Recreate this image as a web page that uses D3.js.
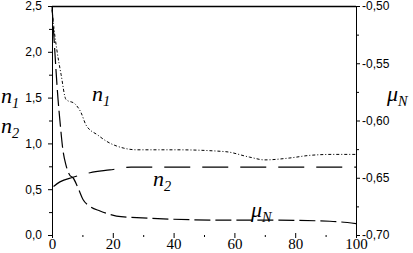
<!DOCTYPE html>
<html>
<head>
<meta charset="utf-8">
<script src="https://cdn.jsdelivr.net/npm/d3@7"></script>
<style>
  body { margin: 0; background: #fff; }
  svg { display: block; }
</style>
</head>
<body>
<svg id="chart" width="413" height="253"></svg>
<script>
// values
var n1X = [0, 0.7, 1.6, 3.0, 4.6, 7.6, 9.5, 11.2, 15.1, 18.1, 23.4, 28, 41, 57, 65, 70, 78, 85, 92.4, 100];
var n1Y = [2.46, 2.24, 2.02, 1.75, 1.48, 1.43, 1.34, 1.20, 1.09, 1.02, 0.95, 0.93, 0.93, 0.91, 0.85, 0.82, 0.84, 0.87, 0.88, 0.88];

var n2X = [0.5, 2.6, 6.9, 12.5, 19, 26, 49, 70, 100];
var n2Y = [0.53, 0.58, 0.63, 0.68, 0.71, 0.74, 0.74, 0.74, 0.74];

var muX = [0, 0.7, 2.0, 2.6, 3.6, 4.6, 5.9, 6.9, 8.6, 10.2, 12.5, 15.8, 19, 22.7, 57, 71.7, 91.4, 100];
var muY = [-0.500, -0.530, -0.582, -0.600, -0.626, -0.639, -0.648, -0.650, -0.659, -0.669, -0.675, -0.679, -0.682, -0.684, -0.687, -0.687, -0.688, -0.690];

var xTicks = [0, 20, 40, 60, 80, 100];
var leftTicks = [0, 0.5, 1.0, 1.5, 2.0, 2.5];
var rightTicks = [-0.70, -0.65, -0.60, -0.55, -0.50];

var margin = {top: 6, right: 57, bottom: 18, left: 52},
  width = 413 - margin.left - margin.right,
  height = 253 - margin.top - margin.bottom;

var serif = "'Liberation Serif', 'Times New Roman', serif";
var sans = "'Liberation Sans', Arial, sans-serif";

var svg = d3.select("#chart");
var g = svg.append("g").attr("transform", "translate(" + margin.left + "," + margin.top + ")");

var x = d3.scaleLinear().domain([0, 100]).range([0, width]);
var yL = d3.scaleLinear().domain([0, 2.5]).range([height, 0]);
var yR = d3.scaleLinear().domain([-0.70, -0.50]).range([height, 0]);

var comma = function(d, n) { return d.toFixed(n).replace(".", ","); };

// frame: left, right, top (no bottom line)
g.append("line").attr("x1", 0).attr("x2", width).attr("y1", 0.5).attr("y2", 0.5)
  .attr("stroke", "#000").attr("stroke-width", 1.5);

// left axis
var la = g.append("g")
  .call(d3.axisLeft(yL).tickValues(leftTicks).tickSize(4).tickPadding(6)
    .tickFormat(function(d) { return comma(d, 1); }));
g.append("g")
  .call(d3.axisLeft(yL).tickValues(d3.range(0.25, 2.5, 0.5)).tickSize(3).tickFormat(""))
  .select(".domain").remove();

// right axis
var ra = g.append("g").attr("transform", "translate(" + width + ",0)")
  .call(d3.axisRight(yR).tickValues(rightTicks).tickSize(4).tickPadding(2)
    .tickFormat(function(d) { return comma(d, 2); }));
g.append("g").attr("transform", "translate(" + width + ",0)")
  .call(d3.axisRight(yR).tickValues([-0.675, -0.625, -0.575, -0.525]).tickSize(3).tickFormat(""))
  .select(".domain").remove();

// bottom axis: ticks only
var ba = g.append("g").attr("transform", "translate(0," + height + ")")
  .call(d3.axisBottom(x).tickValues(xTicks).tickSize(3).tickPadding(0));
ba.select(".domain").remove();
ba.selectAll(".tick line").attr("y1", -2);
var bm = g.append("g").attr("transform", "translate(0," + height + ")")
  .call(d3.axisBottom(x).tickValues([10, 30, 50, 70, 90]).tickSize(2).tickFormat(""));
bm.select(".domain").remove();

[la, ra].forEach(function(a) {
  a.attr("font-family", sans).attr("font-size", 12);
  a.selectAll("text").style("font-family", sans).attr("fill", "#000");
});
ba.attr("font-family", serif).attr("font-size", 15);
ba.selectAll("text").style("font-family", serif).attr("fill", "#000");
g.selectAll(".domain").attr("stroke", "#000");
g.selectAll(".tick line").attr("stroke", "#000");

// curves
var lineL = function(xs, ys) {
  return d3.line().x(function(d) { return x(d[0]); }).y(function(d) { return yL(d[1]); })
    .curve(d3.curveMonotoneX)(d3.zip(xs, ys));
};
var lineR = d3.line().x(function(d) { return x(d[0]); }).y(function(d) { return yR(d[1]); })
  .curve(d3.curveMonotoneX);

g.append("path").attr("d", lineL(n1X, n1Y))
  .attr("fill", "none").attr("stroke", "#000").attr("stroke-width", 1)
  .attr("stroke-dasharray", "3,2,1,2");
g.append("path").attr("d", lineL(n2X, n2Y))
  .attr("fill", "none").attr("stroke", "#000").attr("stroke-width", 1.2)
  .attr("stroke-dasharray", "26,12");
g.append("path").attr("d", lineR(d3.zip(muX, muY)))
  .attr("fill", "none").attr("stroke", "#000").attr("stroke-width", 1.2)
  .attr("stroke-dasharray", "16,5");

// labels
function label(px, py, main, sub, size) {
  var t = svg.append("text").attr("x", px).attr("y", py)
    .style("font-family", serif)
    .attr("font-style", "italic").attr("font-size", size).attr("fill", "#000");
  t.append("tspan").text(main);
  t.append("tspan").attr("dy", 5).attr("font-size", size * 0.65).text(sub);
}
label(1, 103, "n", "1", 22);
label(1, 133, "n", "2", 22);
label(92, 101, "n", "1", 22);
label(153, 186, "n", "2", 22);
label(251, 217, "\u03bc", "N", 22);
label(387, 101, "\u03bc", "N", 22);
</script>
</body>
</html>
